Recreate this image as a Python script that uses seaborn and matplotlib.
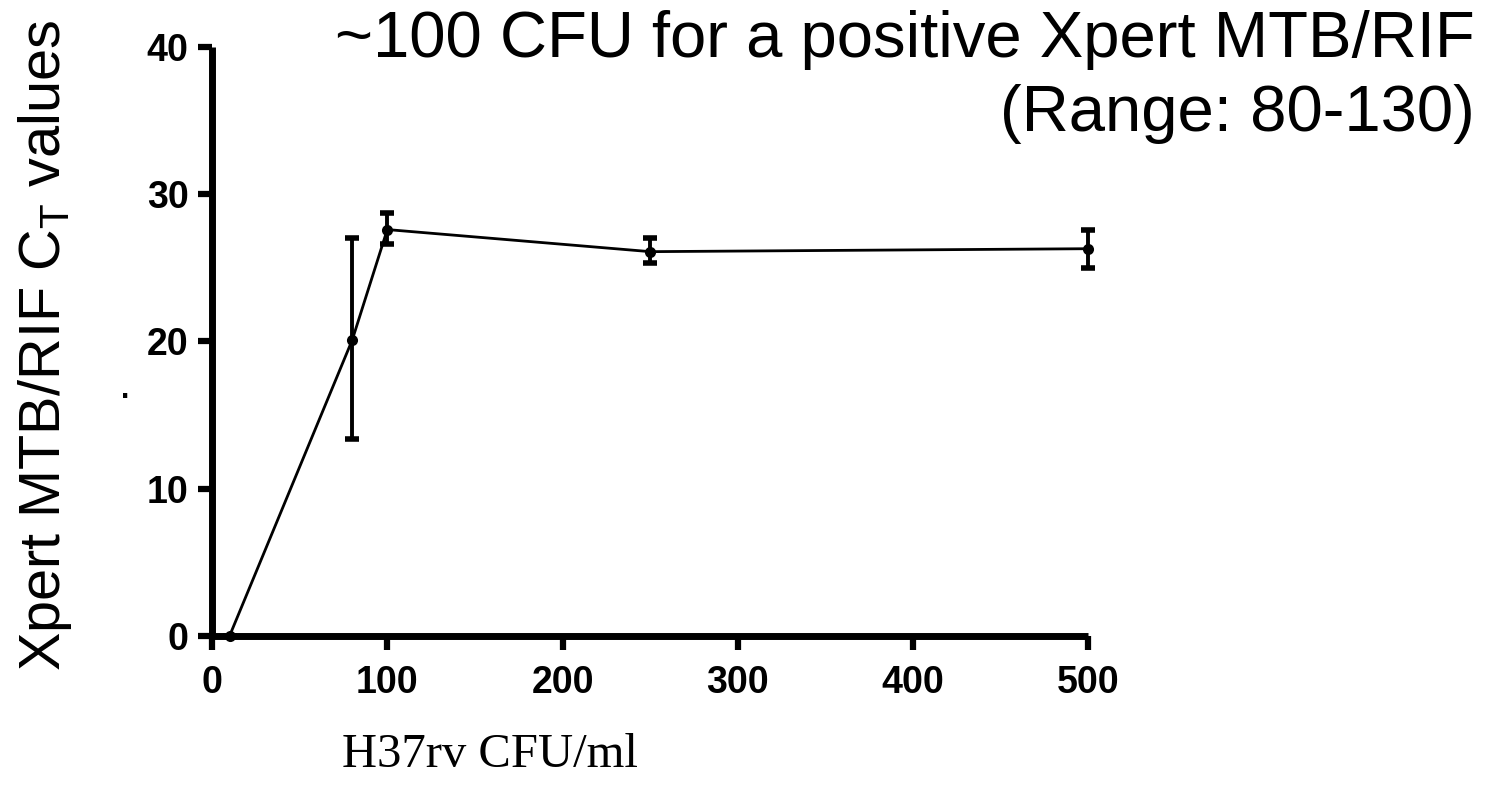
import numpy as np
import seaborn as sns
import matplotlib.pyplot as plt

# H37rv dilution series vs Xpert CT values
cfu = [10, 80, 100, 250, 500]
ct_mean = [0.0, 20.1, 27.6, 26.1, 26.3]
ct_err_low = [0.0, 6.7, 1.0, 0.8, 1.3]
ct_err_high = [0.0, 6.9, 1.1, 0.9, 1.3]

x_ticks = [0, 100, 200, 300, 400, 500]
y_ticks = [0, 10, 20, 30, 40]

sns.set_style("ticks")
plt.rcParams['font.family'] = ['Liberation Sans', 'DejaVu Sans']
plt.rcParams['mathtext.fontset'] = 'custom'
plt.rcParams['mathtext.rm'] = 'Liberation Sans'
plt.rcParams['text.color'] = 'black'
plt.rcParams['axes.labelcolor'] = 'black'
plt.rcParams['xtick.color'] = 'black'
plt.rcParams['ytick.color'] = 'black'

fig = plt.figure(figsize=(14.93, 7.96), dpi=100)
ax = fig.add_axes([0.142, 0.201, 0.587, 0.740])

# line + markers through seaborn
sns.lineplot(x=cfu, y=ct_mean, ax=ax, color='black', linewidth=2,
             marker='o', markersize=8, markeredgewidth=0)

# error bars
ax.errorbar(cfu, ct_mean, yerr=[ct_err_low, ct_err_high], fmt='none',
            ecolor='black', elinewidth=2.8, capsize=5, capthick=4)

ax.set_xlim(0, 500)
ax.set_ylim(0, 40)
ax.set_xticks(x_ticks)
ax.set_yticks(y_ticks)
ax.tick_params(axis='both', direction='out', length=10, width=4.5,
               labelsize=27, pad=7)
ax.tick_params(axis='x', pad=11)
for lab in ax.get_xticklabels() + ax.get_yticklabels():
    lab.set_fontweight('bold')

sns.despine(ax=ax)
for side in ['left', 'bottom']:
    ax.spines[side].set_linewidth(5)
    ax.spines[side].set_color('black')
    ax.spines[side].set_capstyle('butt')
for art in ax.get_children():
    try:
        art.set_clip_on(False)
    except Exception:
        pass

ax.set_ylabel('Xpert MTB/RIF C$_\\mathregular{T}$ values', fontsize=41.5)
ax.yaxis.set_label_coords(-0.157, 0.494)
ax.set_xlabel('H37rv CFU/ml', fontsize=35, family='Liberation Serif',
              va='top')
ax.xaxis.set_label_coords(0.317, -0.165)

fig.text(0.988, 0.988, '~100 CFU for a positive Xpert MTB/RIF\n(Range: 80-130)',
         ha='right', va='top', fontsize=47, multialignment='right',
         linespacing=1.3)
fig.text(0.080, 0.500, '.', fontsize=32)

fig.savefig('out.png', dpi=100)
